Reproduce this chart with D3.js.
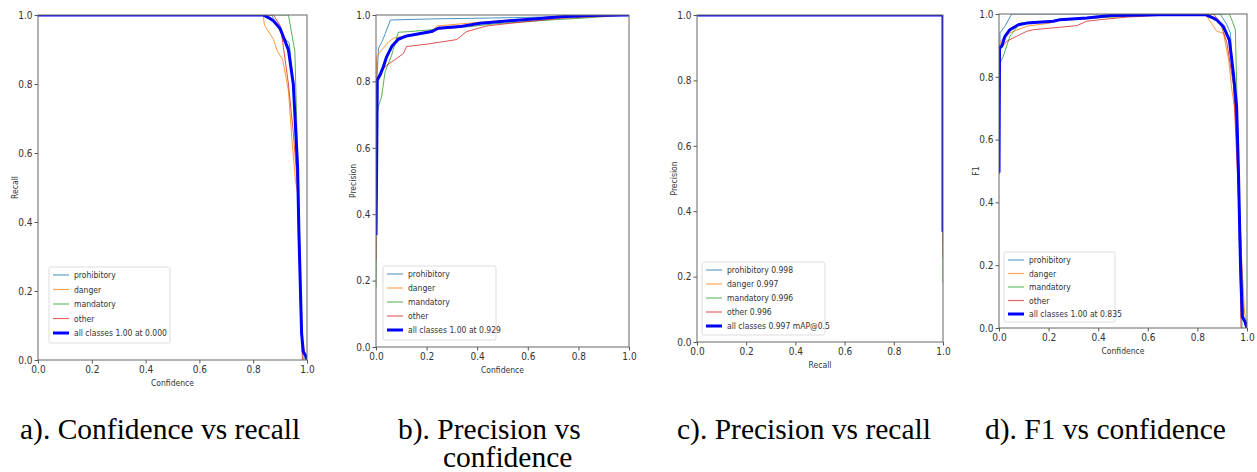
<!DOCTYPE html>
<html>
<head>
<meta charset="utf-8">
<script src="https://cdn.jsdelivr.net/npm/d3@7"></script>
<style>
  html, body { margin: 0; padding: 0; background: #fff; }
  svg { display: block; }
  .tick text, .lab, .leg { font-family: "DejaVu Sans", sans-serif; font-stretch: condensed; fill: #333; }
  .cap { font-family: "Liberation Serif", "Times New Roman", serif; fill: #000; }
</style>
</head>
<body>
<script>
// ---- class names and legend texts ----
const classNames = ["prohibitory", "danger", "mandatory", "other"];
const classColors = ["#1f77b4", "#ff7f0e", "#2ca02c", "#d62728"];
const tickValues = [0, 0.2, 0.4, 0.6, 0.8, 1.0];

// ---- a) recall vs confidence ----
const recallProhibitory = [[0,1],[0.868,1],[0.912,0.937],[0.934,0.918],[0.949,0.80],[0.964,0.52],[0.978,0.08],[0.993,0]];
const recallDanger = [[0,1],[0.837,1],[0.842,0.97],[0.875,0.93],[0.89,0.895],[0.91,0.87],[0.931,0.78],[0.944,0.64],[0.957,0.52],[0.966,0.48],[0.98,0.07],[0.993,0.02],[1.0,0]];
const recallMandatory = [[0,1],[0.931,1],[0.955,0.894],[0.968,0.502],[0.978,0.174],[0.986,0]];
const recallOther = [[0,1],[0.875,1],[0.9,0.97],[0.91,0.92],[0.931,0.80],[0.949,0.66],[0.965,0.50],[0.975,0.17],[0.983,0]];
const recallAll = [[0,1],[0.837,1],[0.862,0.99],[0.875,0.983],[0.9,0.961],[0.931,0.899],[0.949,0.80],[0.965,0.56],[0.970,0.367],[0.980,0.077],[0.986,0.024],[0.997,0.01],[1.0,0]];
const recallLegend = ["prohibitory", "danger", "mandatory", "other", "all classes 1.00 at 0.000"];

// ---- b) precision vs confidence ----
const precProhibitory = [[0,0.80],[0.004,0.814],[0.01,0.9],[0.024,0.92],[0.037,0.945],[0.057,0.985],[0.214,0.988],[0.609,0.993],[0.807,0.997],[1,1]];
const precDanger = [[0,0.80],[0.003,0.874],[0.022,0.894],[0.049,0.919],[0.069,0.93],[0.135,0.94],[0.22,0.95],[0.24,0.967],[0.332,0.973],[0.478,0.982],[0.75,0.995],[1,1]];
const precMandatory = [[0,0.18],[0.003,0.70],[0.009,0.724],[0.022,0.754],[0.036,0.829],[0.062,0.879],[0.088,0.948],[0.134,0.95],[0.24,0.957],[0.371,0.965],[0.464,0.973],[0.596,0.98],[0.727,0.987],[0.807,0.99],[1,1]];
const precOther = [[0,0.26],[0.003,0.81],[0.016,0.825],[0.042,0.849],[0.082,0.869],[0.108,0.884],[0.121,0.905],[0.2,0.912],[0.319,0.926],[0.358,0.95],[0.438,0.967],[0.53,0.975],[0.73,0.99],[1,1]];
const precAll = [[0,0.337],[0.003,0.593],[0.005,0.804],[0.016,0.819],[0.029,0.844],[0.042,0.874],[0.062,0.905],[0.088,0.927],[0.121,0.937],[0.22,0.95],[0.246,0.96],[0.332,0.965],[0.411,0.975],[0.53,0.983],[0.661,0.99],[0.727,0.995],[0.872,0.999],[1,1]];
const precLegend = ["prohibitory", "danger", "mandatory", "other", "all classes 1.00 at 0.929"];

// ---- c) precision vs recall ----
const prProhibitory = [[0,1],[1,1],[1,0.33]];
const prDanger = [[0,1],[1,1],[1,0.30]];
const prMandatory = [[0,1],[1,1],[1,0.18]];
const prOther = [[0,1],[1,1],[1,0.26]];
const prAll = [[0,1],[1,1],[1,0.337]];
const prLegend = ["prohibitory 0.998", "danger 0.997", "mandatory 0.996", "other 0.996", "all classes 0.997 mAP@0.5"];

// ---- d) F1 vs confidence ----
const f1Prohibitory = [[0,0.49],[0.004,0.94],[0.024,0.961],[0.051,1.0],[0.892,1.0],[0.919,0.966],[0.933,0.939],[0.946,0.78],[0.965,0.5],[0.987,0.027],[0.995,0]];
const f1Danger = [[0,0.49],[0.004,0.91],[0.011,0.918],[0.044,0.94],[0.112,0.961],[0.206,0.971],[0.246,0.984],[0.35,0.987],[0.45,0.99],[0.6,0.995],[0.832,1],[0.845,0.984],[0.878,0.945],[0.905,0.939],[0.926,0.854],[0.939,0.758],[0.957,0.663],[0.973,0.303],[0.99,0.05],[1,0]];
const f1Mandatory = [[0,0.49],[0.002,0.84],[0.017,0.865],[0.044,0.929],[0.085,0.971],[0.179,0.975],[0.381,0.987],[0.515,0.993],[0.7,0.998],[0.93,1],[0.953,0.95],[0.966,0.515],[0.98,0]];
const f1Other = [[0,0.49],[0.004,0.886],[0.031,0.913],[0.071,0.929],[0.112,0.945],[0.139,0.95],[0.314,0.963],[0.354,0.977],[0.408,0.982],[0.515,0.99],[0.7,0.998],[0.865,1],[0.892,0.973],[0.919,0.908],[0.946,0.77],[0.966,0.41],[0.976,0]];
const f1All = [[0,0.495],[0.002,0.894],[0.011,0.897],[0.024,0.929],[0.044,0.95],[0.078,0.966],[0.112,0.971],[0.219,0.977],[0.246,0.982],[0.354,0.987],[0.448,0.995],[0.65,0.998],[0.832,0.998],[0.865,0.987],[0.878,0.981],[0.905,0.96],[0.929,0.917],[0.945,0.811],[0.958,0.705],[0.965,0.514],[0.974,0.195],[0.981,0.036],[0.992,0.02],[1,0]];
const f1Legend = ["prohibitory", "danger", "mandatory", "other", "all classes 1.00 at 0.835"];

// ---- captions (a caption may wrap onto a second line) ----
const captions = [
  { lines: ["a). Confidence vs recall"], x: [20], y: [439] },
  { lines: ["b). Precision vs", "confidence"], x: [398, 443], y: [439, 467] },
  { lines: ["c). Precision vs recall"], x: [677], y: [439] },
  { lines: ["d). F1 vs confidence"], x: [985], y: [439] }
];

const W = 1257, H = 472;
const svg = d3.select("body").append("svg").attr("width", W).attr("height", H);
svg.append("rect").attr("width", W).attr("height", H).attr("fill", "#fff");

let clipId = 0;
function drawPanel(p) {
  const x = d3.scaleLinear().domain([0, 1]).range([p.x0, p.x1]);
  const y = d3.scaleLinear().domain([0, 1]).range([p.y1, p.y0]);
  const g = svg.append("g");

  const id = "clip" + (clipId++);
  g.append("clipPath").attr("id", id).append("rect")
    .attr("x", p.x0).attr("y", p.y0).attr("width", p.x1 - p.x0).attr("height", p.y1 - p.y0);

  const line = d3.line().x(d => x(d[0])).y(d => y(d[1]));
  const lines = g.append("g").attr("clip-path", `url(#${id})`);
  p.series.forEach((s, i) => {
    lines.append("path").attr("d", line(s)).attr("fill", "none")
      .attr("stroke", classColors[i]).attr("stroke-width", 1).attr("stroke-opacity", 0.8)
      .attr("stroke-linejoin", "round");
  });
  lines.append("path").attr("d", line(p.all)).attr("fill", "none")
    .attr("stroke", "#0000ff").attr("stroke-width", 3).attr("stroke-linejoin", "round");

  // axes
  const xa = g.append("g").attr("transform", `translate(0,${p.y1})`)
    .call(d3.axisBottom(x).tickValues(tickValues).tickFormat(d3.format(".1f")).tickSize(3.5).tickPadding(2));
  const ya = g.append("g").attr("transform", `translate(${p.x0},0)`)
    .call(d3.axisLeft(y).tickValues(tickValues).tickFormat(d3.format(".1f")).tickSize(3.5).tickPadding(2));
  [xa, ya].forEach(a => {
    a.select(".domain").remove();
    a.selectAll(".tick line").attr("stroke", "#555");
    a.selectAll(".tick text").attr("font-size", 10);
  });

  // frame
  g.append("rect").attr("x", p.x0).attr("y", p.y0).attr("width", p.x1 - p.x0).attr("height", p.y1 - p.y0)
    .attr("fill", "none").attr("stroke", "#666").attr("stroke-width", 1);

  // axis labels
  g.append("text").attr("class", "lab").attr("x", (p.x0 + p.x1) / 2).attr("y", p.y1 + 26)
    .attr("text-anchor", "middle").attr("font-size", 8.5).text(p.xLabel);
  g.append("text").attr("class", "lab")
    .attr("transform", `translate(${p.x0 - 20},${(p.y0 + p.y1) / 2}) rotate(-90)`)
    .attr("text-anchor", "middle").attr("font-size", 8.5).text(p.yLabel);

  // legend
  const L = p.legend;
  const lg = g.append("g");
  lg.append("rect").attr("x", L.x).attr("y", L.y).attr("width", L.w).attr("height", L.h)
    .attr("rx", 2).attr("fill", "#fff").attr("fill-opacity", 0.8).attr("stroke", "#ddd");
  p.labels.forEach((t, i) => {
    const ry = L.y + 8 + i * L.row;
    lg.append("line").attr("x1", L.x + 4).attr("x2", L.x + 20).attr("y1", ry).attr("y2", ry)
      .attr("stroke", i < 4 ? classColors[i] : "#0000ff").attr("stroke-width", i < 4 ? 1.2 : 3)
      .attr("stroke-opacity", i < 4 ? 0.7 : 1);
    lg.append("text").attr("class", "leg").attr("x", L.x + 25).attr("y", ry + 3)
      .attr("font-size", 8.5).text(t);
  });
}

drawPanel({ x0: 38, x1: 307, y0: 15, y1: 360, xLabel: "Confidence", yLabel: "Recall",
  series: [recallProhibitory, recallDanger, recallMandatory, recallOther], all: recallAll,
  labels: recallLegend, legend: { x: 49, y: 267, w: 121, h: 76, row: 14.5 } });
drawPanel({ x0: 376, x1: 629, y0: 15, y1: 347, xLabel: "Confidence", yLabel: "Precision",
  series: [precProhibitory, precDanger, precMandatory, precOther], all: precAll,
  labels: precLegend, legend: { x: 383, y: 266, w: 113, h: 74, row: 14 } });
drawPanel({ x0: 697, x1: 943, y0: 15, y1: 342, xLabel: "Recall", yLabel: "Precision",
  series: [prProhibitory, prDanger, prMandatory, prOther], all: prAll,
  labels: prLegend, legend: { x: 702, y: 262, w: 123, h: 73, row: 14 } });
drawPanel({ x0: 999, x1: 1247, y0: 14, y1: 328, xLabel: "Confidence", yLabel: "F1",
  series: [f1Prohibitory, f1Danger, f1Mandatory, f1Other], all: f1All,
  labels: f1Legend, legend: { x: 1004, y: 252, w: 111, h: 70, row: 13.5 } });

// each caption is one text element; wrapped lines become tspans
captions.forEach(c => {
  const t = svg.append("text").attr("class", "cap").attr("font-size", 29.5);
  c.lines.forEach((s, i) => {
    t.append("tspan").attr("x", c.x[i]).attr("y", c.y[i]).text(s);
  });
});
</script>
</body>
</html>
